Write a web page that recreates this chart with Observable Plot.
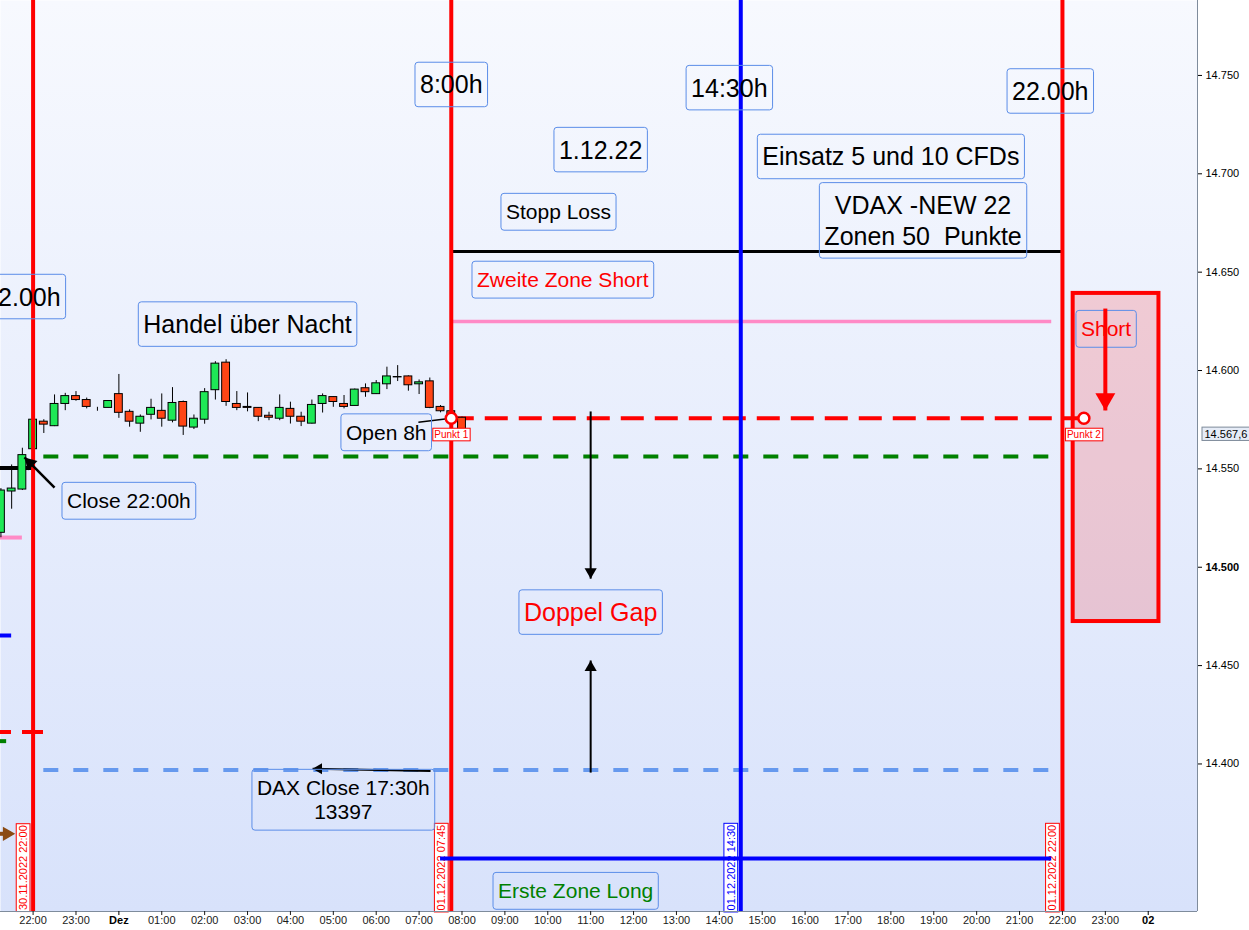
<!DOCTYPE html>
<html><head><meta charset="utf-8">
<script src="https://cdn.jsdelivr.net/npm/d3@7"></script>
<script src="https://cdn.jsdelivr.net/npm/@observablehq/plot@0.6"></script>
<style>
html,body{margin:0;padding:0;background:#fff;}
#chart svg text{white-space:pre;}
</style></head><body><div id="chart"></div>
<script>
const T = s => new Date(`2022-${s.slice(0,5)}T${s.slice(6)}${s.length > 11 ? "" : ":00"}Z`);

// ---- 15-minute candles (DAX CFD) ----
const candleTimes = ["11-30 21:15","11-30 21:30","11-30 21:45","11-30 22:00","11-30 22:15","11-30 22:30","11-30 22:45","11-30 23:00","11-30 23:15","11-30 23:30","11-30 23:45",
"12-01 00:00","12-01 00:15","12-01 00:30","12-01 00:45","12-01 01:00","12-01 01:15","12-01 01:30","12-01 01:45","12-01 02:00","12-01 02:15","12-01 02:30","12-01 02:45","12-01 03:00","12-01 03:15","12-01 03:30","12-01 03:45","12-01 04:00","12-01 04:15","12-01 04:30","12-01 04:45","12-01 05:00","12-01 05:15","12-01 05:30","12-01 05:45","12-01 06:00","12-01 06:15","12-01 06:30","12-01 06:45","12-01 07:00","12-01 07:15","12-01 07:30","12-01 07:45","12-01 08:00"];
const candleOpen = [14517.5,14538.5,14539.5,14560,14574,14571.7,14583,14587,14585,14581,14581,
14588,14579,14573,14577.5,14579.5,14574.5,14584,14571,14575,14590,14604,14583,14581.5,14581,14577,14575.5,14580.5,14576.5,14573,14583,14586.5,14583,14582,14591,14588,14593,14596.5,14597,14593,14594.5,14581.5,14579.3,14576];
const candleHigh = [14540,14552,14560.5,14575,14575,14587.6,14588.4,14589.3,14586,14581.3,14584.5,
14598,14580,14577.4,14585.4,14588.1,14591.3,14584.5,14577.4,14590.8,14604.5,14605.5,14589.3,14588.6,14581.2,14578.8,14587.6,14583.9,14578.8,14585,14588.1,14586.6,14587.3,14590.6,14593.2,14594.9,14601.7,14602.5,14597.3,14595.2,14596.2,14582.2,14579.6,14576.3];
const candleLow = [14515,14529.5,14539,14559.5,14568,14571.5,14579.6,14584.4,14580.5,14579.3,14581,
14575.7,14571.2,14568.6,14574.9,14571.2,14573.4,14567,14570,14572.7,14585,14581.8,14579.6,14579,14574,14574.5,14574.5,14572.8,14571.5,14572.8,14578.4,14581.3,14580.5,14581.8,14586.4,14587.8,14590.3,14594.4,14589.5,14587.8,14580.6,14578.5,14576,14567.6];
const candleClose = [14539,14540,14557,14575,14572.5,14583,14587,14585,14581.5,14581,14584.5,
14578.5,14574,14576.5,14581,14575.5,14583.5,14571.5,14575.5,14589,14603.5,14584,14581,14581,14576.5,14576,14581,14576.5,14574,14582.5,14587,14584,14581.5,14590.3,14589,14593.5,14597,14596.7,14592.5,14594,14581,14579.3,14576.3,14567.6];
const lastPrice = 14567.6;

// ---- axes ----
const xDomain = ["11-30 21:14:24", "12-02 01:08:56"];
const yDomain = [14325, 14788.1];
const yTickValues = [14400,14450,14500,14550,14600,14650,14700,14750];
const yTickBold = [14500];
const xTickTimes = ["11-30 22:00","11-30 23:00","12-01 00:00","12-01 01:00","12-01 02:00","12-01 03:00","12-01 04:00","12-01 05:00","12-01 06:00","12-01 07:00","12-01 08:00","12-01 09:00","12-01 10:00","12-01 11:00","12-01 12:00","12-01 13:00","12-01 14:00","12-01 15:00","12-01 16:00","12-01 17:00","12-01 18:00","12-01 19:00","12-01 20:00","12-01 21:00","12-01 22:00","12-01 23:00","12-02 00:00"];
const xTickLabels = ["22:00","23:00","Dez","01:00","02:00","03:00","04:00","05:00","06:00","07:00","08:00","09:00","10:00","11:00","12:00","13:00","14:00","15:00","16:00","17:00","18:00","19:00","20:00","21:00","22:00","23:00","02"];
const xTickBoldLabels = ["Dez","02"];

// ---- vertical time markers ----
const redLineTimes = ["11-30 22:00","12-01 07:45","12-01 22:00"];
const redLineLabels = ["30.11.2022 22:00","01.12.2022 07:45","01.12.2022 22:00"];
const blueLineTimes = ["12-01 14:30"];
const blueLineLabels = ["01.12.2022 14:30"];
const markerLabelPrice = 14347.3;

// ---- horizontal levels ----
const levelNames  = ["Stopp Loss","Zweite Zone Short","Punkt 1 - Punkt 2","Close 22:00h","DAX Close","Erste Zone Long"];
const levelPrices = [14660.5, 14624.9, 14575.7, 14556.3, 14396.9, 14351.9];
const levelFrom   = ["12-01 07:45","12-01 07:45","12-01 07:45","11-30 22:15","11-30 22:15","12-01 07:30"];
const levelTo     = ["12-01 22:00","12-01 21:45","12-01 22:30","12-01 21:45","12-01 21:45","12-01 21:45"];

// ---- ends of the previous day's levels (left edge) ----
const prevPrices = [14550.5, 14515.1, 14465.3, 14416.2, 14411.6, 14364.5];
const prevFrom   = ["11-30 21:14:24","11-30 21:14:24","11-30 21:14:24","11-30 21:14:24","11-30 21:14:24","11-30 21:05"];
const prevTo     = ["11-30 22:00","11-30 21:45","11-30 21:30","11-30 22:15","11-30 21:23","11-30 21:30"];

// ---- points / zone ----
const punktNames  = ["Punkt 1","Punkt 2"];
const punktTimes  = ["12-01 07:45","12-01 22:30"];
const punktPrices = [14575.7, 14575.7];
const zoneFrom = "12-01 22:15", zoneTo = "12-02 00:15", zoneLow = 14472.4, zoneHigh = 14639.2;

// ---- arrows: [from, to] ----
const arrowNames   = ["Gap down","Gap up","DAX Close","Close 22:00h","Short","Vortag"];
const arrowFromT   = ["12-01 11:00","12-01 11:00","12-01 07:16","11-30 22:30","12-01 23:00","11-30 21:05"];
const arrowFromP   = [14579.2, 14395.6, 14396.4, 14540.5, 14631.5, 14364.5];
const arrowToT     = ["12-01 11:00","12-01 11:00","12-01 04:31","11-30 21:48","12-01 23:00","11-30 21:35"];
const arrowToP     = [14494.2, 14452.6, 14397.6, 14555.8, 14579.7, 14364.5];
const openLinkFrom = ["12-01 06:59", 14573.7];

// ---- annotation notes ----
const noteTexts  = ["8:00h","14:30h","22.00h","1.12.22","Einsatz 5 und 10 CFDs","VDAX -NEW 22\nZonen 50  Punkte","Stopp Loss","Zweite Zone Short","22.00h","Handel über Nacht","Open 8h","Close 22:00h","Doppel Gap","DAX Close 17:30h\n13397","Erste Zone Long","Short"];
const noteTimes  = ["12-01 07:45","12-01 14:14","12-01 21:43","12-01 11:14","12-01 18:00","12-01 18:45","12-01 10:15","12-01 10:21","11-30 21:45","12-01 03:00","12-01 06:14","12-01 00:14","12-01 11:00","12-01 05:14","12-01 10:39","12-01 23:01"];
const notePrices = [14744.9,14743.3,14741.6,14711.8,14708.3,14676.8,14680.3,14645.8,14637.1,14623.1,14568.2,14533.4,14476.7,14381.9,14335.1,14620.8];

// ---------- build tables ----------
const candles = candleTimes.map((t,i) => ({t: T(t), open: candleOpen[i], high: candleHigh[i], low: candleLow[i], close: candleClose[i]}));
const up = candles.filter(d => d.close >= d.open), down = candles.filter(d => d.close < d.open);
const half = 5.5 * 60e3;
const notes = noteTexts.map((s,i) => ({text: s, x: T(noteTimes[i]), y: notePrices[i]}));
const pick = names => notes.filter(d => names.includes(d.text));
const deFmt = d3.formatLocale({decimal: ",", thousands: ".", grouping: [3], currency: ["", "€"]});
const fmtY = deFmt.format(",d"), fmtPrice = deFmt.format(",.1f");
const xLabelMap = new Map(xTickTimes.map((t,i) => [+T(t), xTickLabels[i]]));
const xNormal = xTickTimes.map(T).filter(d => !xTickBoldLabels.includes(xLabelMap.get(+d)));
const xBold = xTickTimes.map(T).filter(d => xTickBoldLabels.includes(xLabelMap.get(+d)));

const level = (i, style) => Plot.ruleY([i], {y: j => levelPrices[j], x1: j => T(levelFrom[j]), x2: j => T(levelTo[j]), ...style});
const prev = (i, style) => Plot.ruleY([i], {y: j => prevPrices[j], x1: j => T(prevFrom[j]), x2: j => T(prevTo[j]), ...style});
const arrowLine = (i, style) => Plot.link([i], {x1: j => T(arrowFromT[j]), y1: j => arrowFromP[j], x2: j => T(arrowToT[j]), y2: j => arrowToP[j], ...style});
// filled triangle head (d3 symbolTriangle2: tip at 0.6824*sqrt(size) from centre)
const arrowHead = (i, {rotate, r, fill}) => {
  const tip = 0.6824 * Math.sqrt(Math.PI) * r;
  const a = rotate * Math.PI / 180;
  return Plot.dot([i], {x: j => T(arrowToT[j]), y: j => arrowToP[j], symbol: "triangle2", r, rotate, fill, stroke: "none",
    dx: -tip * Math.sin(a), dy: tip * Math.cos(a)});
};
const note = (names, style) => Plot.text(pick(names), {x: "x", y: "y", text: "text", textAnchor: "middle", ariaDescription: "box-note", ...style});

const NS = "http://www.w3.org/2000/svg";
const gradient = () => {
  const defs = document.createElementNS(NS, "defs");
  defs.innerHTML = `<linearGradient id="bgGrad" x1="0" y1="0" x2="0" y2="1"><stop offset="0" stop-color="#f7f9fe"/><stop offset="1" stop-color="#d8e2fb"/></linearGradient>`;
  return defs;
};

const green = "#1ee856", red = "#ff4515", font = "Liberation Sans, Arial, sans-serif";

const plot = Plot.plot({
  width: 1249, height: 930,
  marginLeft: 0, marginRight: 52, marginTop: 0, marginBottom: 19,
  style: {fontFamily: font, fontSize: "11px", background: "transparent"},
  x: {type: "utc", domain: xDomain.map(T)},
  y: {domain: yDomain},
  marks: [
    gradient,
    Plot.frame({fill: "url(#bgGrad)"}),
    // short zone
    Plot.rect([0], {x1: T(zoneFrom), x2: T(zoneTo), y1: zoneLow, y2: zoneHigh, fill: "red", fillOpacity: 0.16, stroke: "red", strokeWidth: 4}),
    // horizontal levels
    level(0, {stroke: "black", strokeWidth: 3}),
    level(1, {stroke: "#ff8ac6", strokeWidth: 3.5}),
    level(2, {stroke: "red", strokeWidth: 4, strokeDasharray: "23,11"}),
    level(3, {stroke: "#008000", strokeWidth: 4, strokeDasharray: "15,15"}),
    level(4, {stroke: "#6699ee", strokeWidth: 4, strokeDasharray: "15,15"}),
    prev(0, {stroke: "black", strokeWidth: 4}),
    prev(1, {stroke: "#ff8ac6", strokeWidth: 4}),
    prev(2, {stroke: "blue", strokeWidth: 4}),
    prev(3, {stroke: "red", strokeWidth: 4, strokeDasharray: "21,11", strokeDashoffset: 10}),
    prev(4, {stroke: "#008000", strokeWidth: 4}),
    prev(5, {stroke: "#8b4a12", strokeWidth: 4}),
    // candles
    Plot.ruleX(candles, {x: "t", y1: "low", y2: "high", stroke: "black", strokeWidth: 1}),
    Plot.rect(up, {x1: d => new Date(+d.t - half), x2: d => new Date(+d.t + half), y1: "open", y2: "close", fill: green, stroke: "black", strokeWidth: 1}),
    Plot.rect(down, {x1: d => new Date(+d.t - half), x2: d => new Date(+d.t + half), y1: "open", y2: "close", fill: red, stroke: "black", strokeWidth: 1}),
    // vertical markers
    Plot.ruleX(redLineTimes.map(T), {stroke: "red", strokeWidth: 4}),
    Plot.ruleX(blueLineTimes.map(T), {stroke: "blue", strokeWidth: 4}),
    Plot.text(redLineTimes, {x: T, y: () => markerLabelPrice, text: (d,i) => redLineLabels[i], rotate: -90, dx: -9.5, fontSize: 11, fill: "red", ariaDescription: "box-red"}),
    Plot.text(blueLineTimes, {x: T, y: () => markerLabelPrice, text: (d,i) => blueLineLabels[i], rotate: -90, dx: -9.5, fontSize: 11, fill: "blue", ariaDescription: "box-blue"}),
    level(5, {stroke: "blue", strokeWidth: 4}),
    // connector and arrows
    Plot.link([0], {x1: T(openLinkFrom[0]), y1: openLinkFrom[1], x2: T(punktTimes[0]), y2: punktPrices[0], stroke: "black", strokeWidth: 1.5}),
    arrowLine(0, {stroke: "black", strokeWidth: 2}), arrowHead(0, {rotate: 180, r: 5.8, fill: "black"}),
    arrowLine(1, {stroke: "black", strokeWidth: 2}), arrowHead(1, {rotate: 0, r: 5.8, fill: "black"}),
    arrowLine(2, {stroke: "black", strokeWidth: 2}), arrowHead(2, {rotate: -90, r: 5.2, fill: "black"}),
    arrowLine(3, {stroke: "black", strokeWidth: 2.5}), arrowHead(3, {rotate: -45, r: 6.4, fill: "black"}),
    arrowHead(5, {rotate: 90, r: 6.8, fill: "#8b4a12"}),
    // notes
    note(["8:00h","14:30h","22.00h","1.12.22","Einsatz 5 und 10 CFDs","Handel über Nacht"], {fontSize: 25, fill: "black"}),
    note(["VDAX -NEW 22\nZonen 50  Punkte"], {fontSize: 25, fill: "black", lineHeight: 1.24}),
    note(["Stopp Loss","Open 8h","Close 22:00h"], {fontSize: 21, fill: "black"}),
    note(["DAX Close 17:30h\n13397"], {fontSize: 21, fill: "black", lineHeight: 1.14}),
    note(["Doppel Gap"], {fontSize: 25, fill: "red"}),
    note(["Zweite Zone Short","Short"], {fontSize: 21, fill: "red"}),
    note(["Erste Zone Long"], {fontSize: 21, fill: "#008000"}),
    arrowLine(4, {stroke: "red", strokeWidth: 4}), arrowHead(4, {rotate: 180, r: 9.5, fill: "red"}),
    // points
    Plot.dot(punktTimes, {x: T, y: (d,i) => punktPrices[i], r: 5.5, fill: "white", stroke: "red", strokeWidth: 2.5}),
    Plot.text(punktTimes, {x: T, y: (d,i) => punktPrices[i], text: (d,i) => punktNames[i], dy: 16.5, fontSize: 10, fill: "red", ariaDescription: "box-red"}),
    // frame lines
    Plot.ruleX([T(xDomain[1])], {stroke: "#7f8c9c", strokeWidth: 1}),
    Plot.ruleY([yDomain[0]], {stroke: "#7f8c9c", strokeWidth: 1}),
    // axes
    Plot.axisX(xNormal, {anchor: "bottom", tickFormat: d => xLabelMap.get(+d), tickSize: 4, tickPadding: 1, fontSize: 11, color: "#1a1a1a", label: null}),
    Plot.axisX(xBold, {anchor: "bottom", tickFormat: d => xLabelMap.get(+d), tickSize: 4, tickPadding: 1, fontSize: 11, fontWeight: "bold", color: "#000", label: null}),
    Plot.axisY(yTickValues.filter(v => !yTickBold.includes(v)), {anchor: "right", tickFormat: fmtY, tickSize: 4, tickPadding: 4, fontSize: 11, color: "#000", label: null}),
    Plot.axisY(yTickBold, {anchor: "right", tickFormat: fmtY, tickSize: 4, tickPadding: 4, fontSize: 11, fontWeight: "bold", color: "#000", label: null}),
    Plot.text([lastPrice], {x: T(xDomain[1]), y: d => d, text: d => fmtPrice(d), textAnchor: "start", dx: 7, fontSize: 11, fill: "#000", ariaDescription: "box-price"})
  ]
});

document.getElementById("chart").append(plot);

// boxes around annotation texts
const boxStyles = {
  "box-note":  {stroke: "#5b8de8", fill: "none", px: 5, py: 0.33, rx: 3, sw: 1},
  "box-red":   {stroke: "red", fill: "white", px: 1.5, py: 0.08, rx: 0, sw: 1},
  "box-blue":  {stroke: "blue", fill: "white", px: 1.5, py: 0.08, rx: 0, sw: 1},
  "box-price": {stroke: "#7d8a9a", fill: "#e6ecf7", px: 2.5, py: 0.06, rx: 0, sw: 1}
};
for (const g of plot.querySelectorAll("g[aria-description]")) {
  const st = boxStyles[g.getAttribute("aria-description")];
  if (!st) continue;
  const fs = parseFloat(g.getAttribute("font-size")) || 11;
  for (const t of [...g.querySelectorAll("text")]) {
    const b = t.getBBox();
    const r = document.createElementNS(NS, "rect");
    const py = st.py * fs;
    r.setAttribute("x", b.x - st.px);
    r.setAttribute("y", b.y - py);
    r.setAttribute("width", b.width + 2 * st.px);
    r.setAttribute("height", b.height + 2 * py);
    r.setAttribute("rx", st.rx);
    r.setAttribute("fill", st.fill);
    r.setAttribute("stroke", st.stroke);
    r.setAttribute("stroke-width", st.sw);
    if (t.getAttribute("transform")) r.setAttribute("transform", t.getAttribute("transform"));
    g.insertBefore(r, t);
  }
}
</script></body></html>
